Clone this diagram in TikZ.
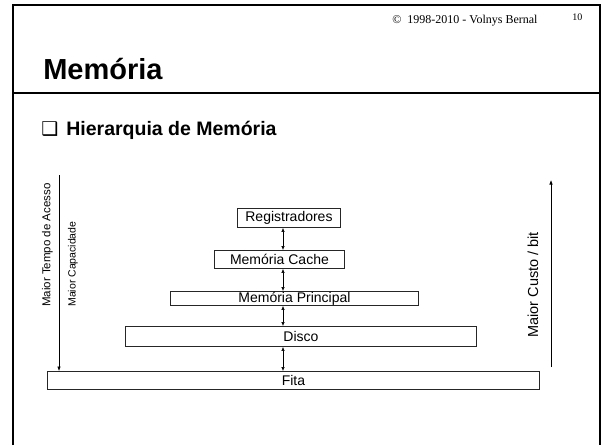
\documentclass[tikz,border=0pt]{standalone}
\usepackage{fontspec}
\setmainfont{Liberation Serif}
\setsansfont{Liberation Sans}
\newfontfamily\dingfont{DejaVu Sans}
\usetikzlibrary{arrows.meta}

\begin{document}
\begin{tikzpicture}[x=1pt, y=-1pt, semithick,
    box/.style={draw=black!85, line width=0.9pt, inner sep=0pt, anchor=north west,
                font=\sffamily\fontsize{14}{16}\selectfont},
    side/.style={rotate=90, anchor=west, inner sep=0pt},
    dbl/.style={line width=0.6pt, {Latex[length=4pt,width=3.5pt]}-{Latex[length=4pt,width=3.5pt]}},
    seta/.style={line width=0.6pt, -{Latex[length=4.5pt,width=3.5pt]}}]
  \useasboundingbox (0,0) rectangle (602,445);
  \fill[white] (0,0) rectangle (602,445);
  \draw[line width=2pt] (13,445) -- (13,5) -- (600,5) -- (600,445);
  \draw[line width=2.5pt] (13,93) -- (600,93);
  \node[anchor=base west, inner sep=0pt, font=\rmfamily\fontsize{12}{14}\selectfont] (copy) at (392,23) {©\ \ 1998-2010 - Volnys Bernal};
  \node[anchor=base west, inner sep=0pt, font=\rmfamily\fontsize{10}{12}\selectfont] (pag) at (572,20) {10};
  \node[anchor=base west, inner sep=0pt, font=\sffamily\bfseries\fontsize{29}{32}\selectfont] (titulo) at (43,79) {Memória};
  \node[anchor=base west, inner sep=0pt, font=\sffamily\bfseries\fontsize{19.5}{22}\selectfont] (sub) at (41,135)
    {{\dingfont\fontsize{19}{19}\selectfont ❑}\hspace{8pt}Hierarquia de Memória};

  \node[box, minimum width=103, minimum height=19] (r) at (237,208) {Registradores};
  \node[box, minimum width=130, minimum height=18] (c) at (214,250) {Memória Cache};
  \node[box, minimum width=248, minimum height=14] (p) at (170,291) {Memória Principal};
  \node[box, minimum width=351, minimum height=20] (d) at (125,326) {Disco};
  \node[box, minimum width=492, minimum height=18] (f) at (47,371) {Fita};
  \coordinate (ax) at (283,0);
  \foreach \a/\b in {r/c, c/p, p/d, d/f}
    \draw[dbl] (\a.south -| ax) -- (\b.north -| ax);

  \coordinate (lt) at (59,175);
  \coordinate (lb) at (59,371);
  \draw[seta] (lt) -- (lb);
  \node[side, font=\sffamily\fontsize{11.5}{13}\selectfont] (tempo) at (47.5,307) {Maior Tempo de Acesso};
  \node[side, font=\sffamily\fontsize{10.5}{12}\selectfont] (capac) at (73,307) {Maior Capacidade};

  \coordinate (rb) at (551,367);
  \coordinate (rt) at (551,180);
  \draw[seta] (rb) -- (rt);
  \node[side, font=\sffamily\fontsize{14.5}{16}\selectfont] (custo) at (533,338) {Maior Custo / bit};
\end{tikzpicture}
\end{document}
